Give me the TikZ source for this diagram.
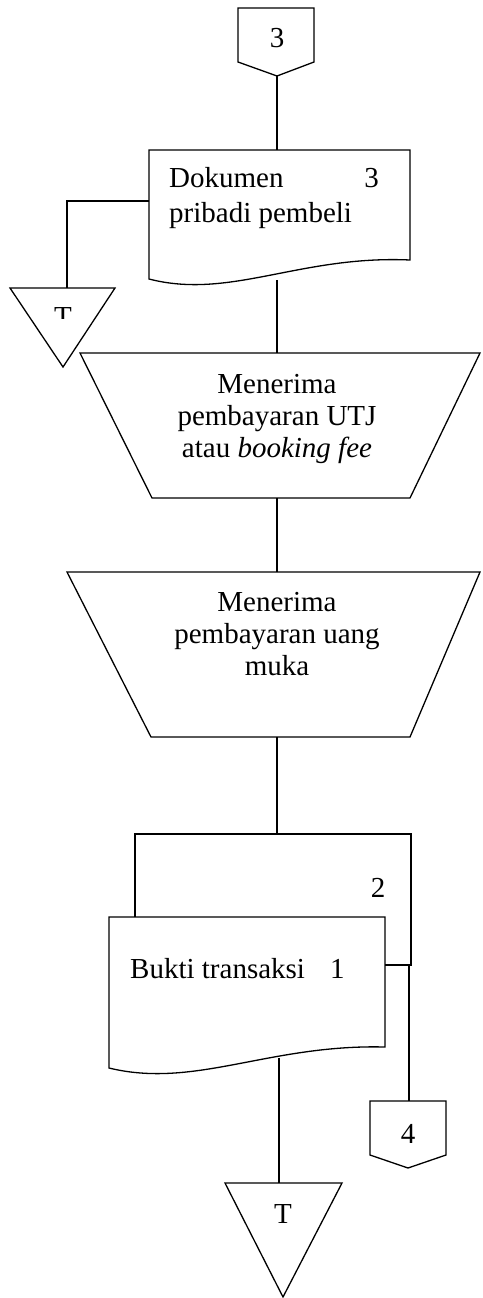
\documentclass[tikz,border=0pt]{standalone}
\usepackage{fontspec}
\setmainfont{Liberation Serif}
\begin{document}
\begin{tikzpicture}[x=1pt,y=-1pt,
  shp/.style={draw=black,line width=1.3pt,line join=miter,fill=white},
  con/.style={draw=black,line width=1.3pt},
  lbl/.style={inner sep=0pt,font=\fontsize{29}{33}\selectfont}]
\useasboundingbox (0,0) rectangle (482,1298);

% off-page connector 3
\draw[shp] (238,8) -- (314,8) -- (314,62) -- (277,76) -- (238,62) -- cycle;
\coordinate (p3b) at (277,76);
\node[lbl,anchor=base] (t3) at (277,48) {3};

% document 1
\draw[shp] (149,150) -- (410,150) -- (410,260)
  .. controls (300,255) and (230,300) .. (149,279) -- cycle;
\coordinate (d1t) at (277,150);
\coordinate (d1w) at (149,201);
\coordinate (d1b) at (277,280);
\node[lbl,anchor=base west] (dok) at (169,187) {Dokumen};
\node[lbl,anchor=base east] (dok3) at (379,187) {3};
\node[lbl,anchor=base west] (prib) at (169,222) {pribadi pembeli};

% triangle T (left)
\draw[shp] (10,288) -- (115,288) -- (63,367) -- cycle;
\coordinate (tr1t) at (67,288);
\begin{scope}
\clip (20,290) rectangle (110,318);
\node[lbl,anchor=base] (tT1) at (63,326) {T};
\end{scope}

% trapezoid 1
\draw[shp] (80,353) -- (480,353) -- (410,498) -- (152,498) -- cycle;
\coordinate (z1t) at (277,353);
\coordinate (z1b) at (277,498);
\node[lbl,anchor=base] (m1) at (277,393) {Menerima};
\node[lbl,anchor=base] (m2) at (277,425) {pembayaran UTJ};
\node[lbl,anchor=base] (m3) at (277,457) {atau \textit{booking fee}};

% trapezoid 2
\draw[shp] (67,572) -- (480,572) -- (410,737) -- (151,737) -- cycle;
\coordinate (z2t) at (277,572);
\coordinate (z2b) at (277,737);
\node[lbl,anchor=base] (n1) at (277,611) {Menerima};
\node[lbl,anchor=base] (n2) at (277,643) {pembayaran uang};
\node[lbl,anchor=base] (n3) at (277,675) {muka};

% document 2 (back copy)
\draw[shp] (135,834) -- (411,834) -- (411,965) -- (135,965) -- cycle;
\coordinate (d2t) at (277,834);
\node[lbl,anchor=base] (c2) at (378,897) {2};

% document 1 (front copy)
\draw[shp] (109,917) -- (385,917) -- (385,1047)
  .. controls (269,1044) and (195,1089) .. (109,1068) -- cycle;
\coordinate (d3e) at (385,965);
\coordinate (d3b) at (279,1058);
\node[lbl,anchor=base west] (bk) at (130,978) {Bukti transaksi};
\node[lbl,anchor=base west] (bk1) at (330,978) {1};

% off-page connector 4
\draw[shp] (370,1101) -- (446,1101) -- (446,1155) -- (408,1168) -- (370,1155) -- cycle;
\coordinate (p4t) at (409,1101);
\node[lbl,anchor=base] (t4) at (408,1143) {4};

% triangle T (bottom)
\draw[shp] (225,1183) -- (342,1183) -- (283,1297) -- cycle;
\coordinate (tr2t) at (279,1183);
\node[lbl,anchor=base] (tT2) at (283,1223) {T};

% connectors
\draw[con] (p3b) -- (d1t);
\draw[con] (d1w) -| (tr1t);
\draw[con] (d1b) -- (z1t);
\draw[con] (z1b) -- (z2t);
\draw[con] (z2b) -- (d2t);
\draw[con] (d3e) -| (p4t);
\draw[con] (d3b) -- (tr2t);
\end{tikzpicture}
\end{document}
